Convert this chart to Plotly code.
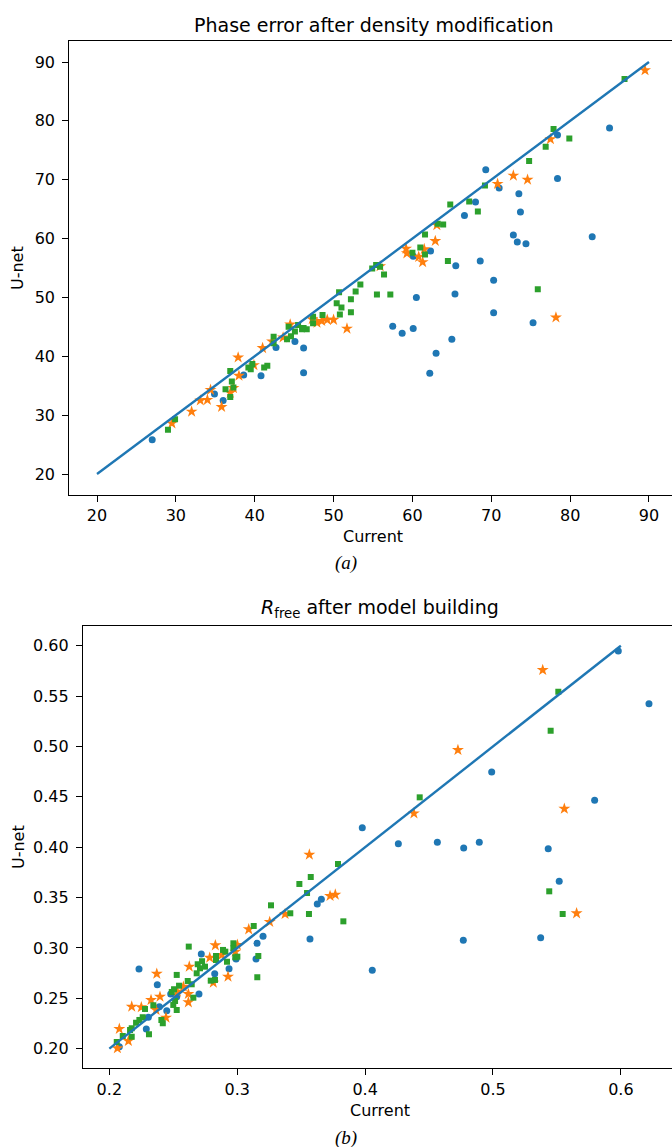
import plotly.graph_objects as go

# ---------- Panel (a): phase error after density modification ----------
pa_blue_x = [27.0, 34.9, 36.0, 38.6, 40.8, 42.7, 45.1, 46.2, 46.2, 57.5, 58.7, 60.1, 60.1, 60.5, 62.3, 62.2,
             63.0, 65.0, 65.4, 65.5, 66.6, 68.0, 68.6, 69.3, 70.3, 70.3, 71.0, 72.8, 73.3, 73.5, 73.7, 74.4,
             75.3, 78.4, 78.4, 82.8, 85.0]
pa_blue_y = [25.8, 33.6, 32.5, 36.8, 36.7, 41.5, 42.5, 41.4, 37.2, 45.1, 43.9, 44.7, 57.0, 50.0, 57.9, 37.1,
             40.5, 42.9, 50.6, 55.4, 63.9, 66.2, 56.2, 71.7, 52.9, 47.4, 68.6, 60.6, 59.4, 67.6, 64.5, 59.1,
             45.7, 77.6, 70.2, 60.3, 78.8]

pa_orange_x = [29.5, 32.0, 33.1, 34.0, 34.4, 35.8, 36.9, 37.3, 37.9, 38.0, 39.9, 41.0, 42.2, 43.6, 44.5,
               47.3, 47.9, 48.5, 49.2, 50.0, 51.7, 55.9, 59.2, 59.3, 60.8, 61.3, 61.5, 62.9, 63.1, 70.8,
               72.8, 74.6, 77.5, 78.2, 89.5]
pa_orange_y = [28.6, 30.6, 32.5, 32.6, 34.3, 31.4, 33.8, 34.6, 39.8, 36.7, 38.5, 41.4, 42.5, 43.2, 45.4,
               46.3, 45.7, 46.0, 46.2, 46.2, 44.7, 55.3, 58.3, 57.5, 56.9, 56.0, 58.2, 59.6, 62.3, 69.3,
               70.7, 70.0, 76.9, 46.6, 88.6]

pa_green_x = [29.0, 29.9, 36.3, 36.9, 36.9, 37.1, 37.3, 39.2, 39.5, 39.7, 41.2, 41.6, 42.4, 42.4, 44.1,
              44.6, 44.3, 45.1, 45.5, 46.0, 46.2, 46.6, 47.4, 47.4, 48.6, 50.4, 50.7, 50.8, 51.0, 52.2,
              52.2, 52.8, 53.4, 54.9, 55.4, 55.9, 55.5, 56.4, 57.2, 60.0, 61.0, 61.6, 61.6, 63.2, 63.9,
              64.5, 64.8, 67.2, 68.3, 69.2, 74.8, 75.9, 76.9, 77.9, 79.9, 86.9]
pa_green_y = [27.5, 29.3, 34.4, 33.1, 37.5, 35.7, 34.7, 38.1, 37.8, 38.7, 38.1, 38.4, 43.3, 42.2, 42.9,
              43.4, 45.0, 44.2, 45.3, 44.6, 44.8, 44.6, 46.7, 45.6, 47.0, 49.0, 50.9, 47.1, 48.3, 49.7,
              47.5, 51.0, 52.2, 54.9, 55.5, 55.2, 50.5, 53.9, 50.5, 57.6, 58.5, 57.3, 60.7, 62.5, 62.4,
              56.2, 65.8, 66.3, 64.6, 69.0, 73.2, 51.4, 75.6, 78.6, 77.0, 87.1]

pa_diag = [20, 90]
pa_ticks = [20, 30, 40, 50, 60, 70, 80, 90]
pa_ticktext = ["20", "30", "40", "50", "60", "70", "80", "90"]

# ---------- Panel (b): R_free after model building ----------
pb_blue_x = [0.2078, 0.2232, 0.2289, 0.2305, 0.2375, 0.2391, 0.2449, 0.2480, 0.2527, 0.2701, 0.2719,
             0.2824, 0.2936, 0.2991, 0.3147, 0.3155, 0.3202, 0.3569, 0.3626, 0.3658, 0.3978, 0.4056,
             0.4260, 0.4565, 0.4768, 0.4771, 0.4893, 0.4990, 0.5373, 0.5432, 0.5518, 0.5795, 0.5980, 0.6220]
pb_blue_y = [0.2020, 0.2791, 0.2196, 0.2312, 0.2635, 0.2417, 0.2377, 0.2543, 0.2516, 0.2543, 0.2940,
             0.2744, 0.2794, 0.2890, 0.2890, 0.3046, 0.3116, 0.3089, 0.3436, 0.3483, 0.4194, 0.2778,
             0.4035, 0.4049, 0.3076, 0.3992, 0.4049, 0.4746, 0.3102, 0.3985, 0.3661, 0.4465, 0.5947, 0.5424]

pb_orange_x = [0.2063, 0.2078, 0.2149, 0.2175, 0.2250, 0.2326, 0.2365, 0.2371, 0.2396, 0.2443, 0.2532,
               0.2579, 0.2618, 0.2618, 0.2625, 0.2785, 0.2813, 0.2829, 0.2879, 0.2928, 0.2985, 0.3001,
               0.3090, 0.3254, 0.3374, 0.3564, 0.3726, 0.3767, 0.4382, 0.4726, 0.5389, 0.5558, 0.5654]
pb_orange_y = [0.2004, 0.2196, 0.2076, 0.2417, 0.2411, 0.2483, 0.2384, 0.2744, 0.2516, 0.2308, 0.2566,
               0.2615, 0.2543, 0.2460, 0.2814, 0.2903, 0.2655, 0.3026, 0.2930, 0.2715, 0.2963, 0.3030,
               0.3185, 0.3258, 0.3337, 0.3926, 0.3516, 0.3529, 0.4336, 0.4965, 0.5759, 0.4382, 0.3344]

pb_green_x = [0.2058, 0.2105, 0.2162, 0.2175, 0.2175, 0.2209, 0.2235, 0.2261, 0.2279, 0.2310, 0.2344,
              0.2407, 0.2418, 0.2488, 0.2500, 0.2506, 0.2514, 0.2527, 0.2527, 0.2545, 0.2613, 0.2621,
              0.2644, 0.2657, 0.2683, 0.2691, 0.2709, 0.2725, 0.2748, 0.2793, 0.2826, 0.2834, 0.2834,
              0.2889, 0.2907, 0.2920, 0.2970, 0.2970, 0.2985, 0.3001, 0.3129, 0.3157, 0.3165, 0.3264,
              0.3415, 0.3486, 0.3546, 0.3561, 0.3575, 0.3788, 0.3830, 0.4427, 0.5440, 0.5451, 0.5511, 0.5545]
pb_green_y = [0.2066, 0.2126, 0.2186, 0.2202, 0.2119, 0.2258, 0.2285, 0.2312, 0.2394, 0.2143, 0.2431,
              0.2285, 0.2252, 0.2563, 0.2434, 0.2590, 0.2473, 0.2384, 0.2732, 0.2625, 0.2672, 0.3013,
              0.2639, 0.2506, 0.2748, 0.2838, 0.2798, 0.2868, 0.2814, 0.2675, 0.2682, 0.2920, 0.2880,
              0.2980, 0.2963, 0.2863, 0.3046, 0.2996, 0.2907, 0.2913, 0.3218, 0.2709, 0.2920, 0.3423,
              0.3344, 0.3635, 0.3545, 0.3337, 0.3704, 0.3833, 0.3264, 0.4495, 0.3562, 0.5156, 0.5544, 0.3337]

pb_diag = [0.2, 0.6]
pb_xticks = [0.2, 0.3, 0.4, 0.5, 0.6]
pb_xticktext = ["0.2", "0.3", "0.4", "0.5", "0.6"]
pb_yticks = [0.20, 0.25, 0.30, 0.35, 0.40, 0.45, 0.50, 0.55, 0.60]
pb_yticktext = ["0.20", "0.25", "0.30", "0.35", "0.40", "0.45", "0.50", "0.55", "0.60"]

C0, C1, C2 = "#1f77b4", "#ff7f0e", "#2ca02c"
W, H = 672, 1147
FONT = "DejaVu Sans"


def py(p):
    return 1 - p / H


fig = go.Figure()


def add_panel(xa, ya, bx, by, ox, oy, gx, gy, diag):
    fig.add_trace(go.Scatter(x=bx, y=by, mode="markers", xaxis=xa, yaxis=ya,
                             marker=dict(symbol="circle", size=7, color=C0, line=dict(width=0))))
    fig.add_trace(go.Scatter(x=ox, y=oy, mode="markers", xaxis=xa, yaxis=ya,
                             marker=dict(symbol="star", size=9, color=C1, line=dict(width=0))))
    fig.add_trace(go.Scatter(x=gx, y=gy, mode="markers", xaxis=xa, yaxis=ya,
                             marker=dict(symbol="square", size=6, color=C2, line=dict(width=0))))
    fig.add_trace(go.Scatter(x=diag, y=diag, mode="lines", xaxis=xa, yaxis=ya,
                             line=dict(color=C0, width=2.4)))


add_panel("x", "y", pa_blue_x, pa_blue_y, pa_orange_x, pa_orange_y, pa_green_x, pa_green_y, pa_diag)
add_panel("x2", "y2", pb_blue_x, pb_blue_y, pb_orange_x, pb_orange_y, pb_green_x, pb_green_y, pb_diag)

axis_common = dict(showgrid=False, zeroline=False, showline=True, linecolor="black", linewidth=1.3,
                   ticks="outside", ticklen=6, tickwidth=1.2, tickcolor="black",
                   tickfont=dict(family=FONT, size=16, color="black"))

fig.update_layout(
    width=W, height=H, margin=dict(l=0, r=0, t=0, b=0),
    paper_bgcolor="white", plot_bgcolor="white", showlegend=False,
    xaxis=dict(domain=[69.4 / W, 1], range=[16.5, 92.92], tickvals=pa_ticks, ticktext=pa_ticktext,
               anchor="y", mirror=True, **axis_common),
    yaxis=dict(domain=[py(494.6), py(41.4)], range=[16.5, 93.5], tickvals=pa_ticks, ticktext=pa_ticktext,
               anchor="x", mirror=False, ticklabelstandoff=4, **axis_common),
    xaxis2=dict(domain=[83 / W, 1], range=[0.1794, 0.64], tickvals=pb_xticks, ticktext=pb_xticktext,
                anchor="y2", mirror=True, **axis_common),
    yaxis2=dict(domain=[py(1068.3), py(625.7)], range=[0.1805, 0.6199], tickvals=pb_yticks,
                ticktext=pb_yticktext, anchor="x2", mirror=False, ticklabelstandoff=4, **axis_common),
)

lbl = dict(family=FONT, size=16, color="black")
annotations = [
    dict(text="Phase error after density modification", x=373 / W, y=py(25), font=dict(family=FONT, size=19, color="black")),
    dict(text="Current", x=373 / W, y=py(536), font=lbl),
    dict(text="<i>(a)</i>", x=346 / W, y=py(563), font=dict(family="Liberation Serif", size=19, color="black")),
    dict(text="<i>R</i><sub>free</sub> after model building", x=380 / W, y=py(608), font=dict(family=FONT, size=19, color="black")),
    dict(text="Current", x=380 / W, y=py(1110), font=lbl),
    dict(text="<i>(b)</i>", x=346 / W, y=py(1138), font=dict(family="Liberation Serif", size=19, color="black")),
    dict(text="U-net", x=18 / W, y=py(268), textangle=-90, font=lbl),
    dict(text="U-net", x=18 / W, y=py(847), textangle=-90, font=lbl),
]
for a in annotations:
    fig.add_annotation(xref="paper", yref="paper", showarrow=False, xanchor="center", yanchor="middle", **a)

fig.write_html("out.html", config={"displayModeBar": False},
               post_script="document.body.style.margin='0';document.body.style.overflow='hidden';")
